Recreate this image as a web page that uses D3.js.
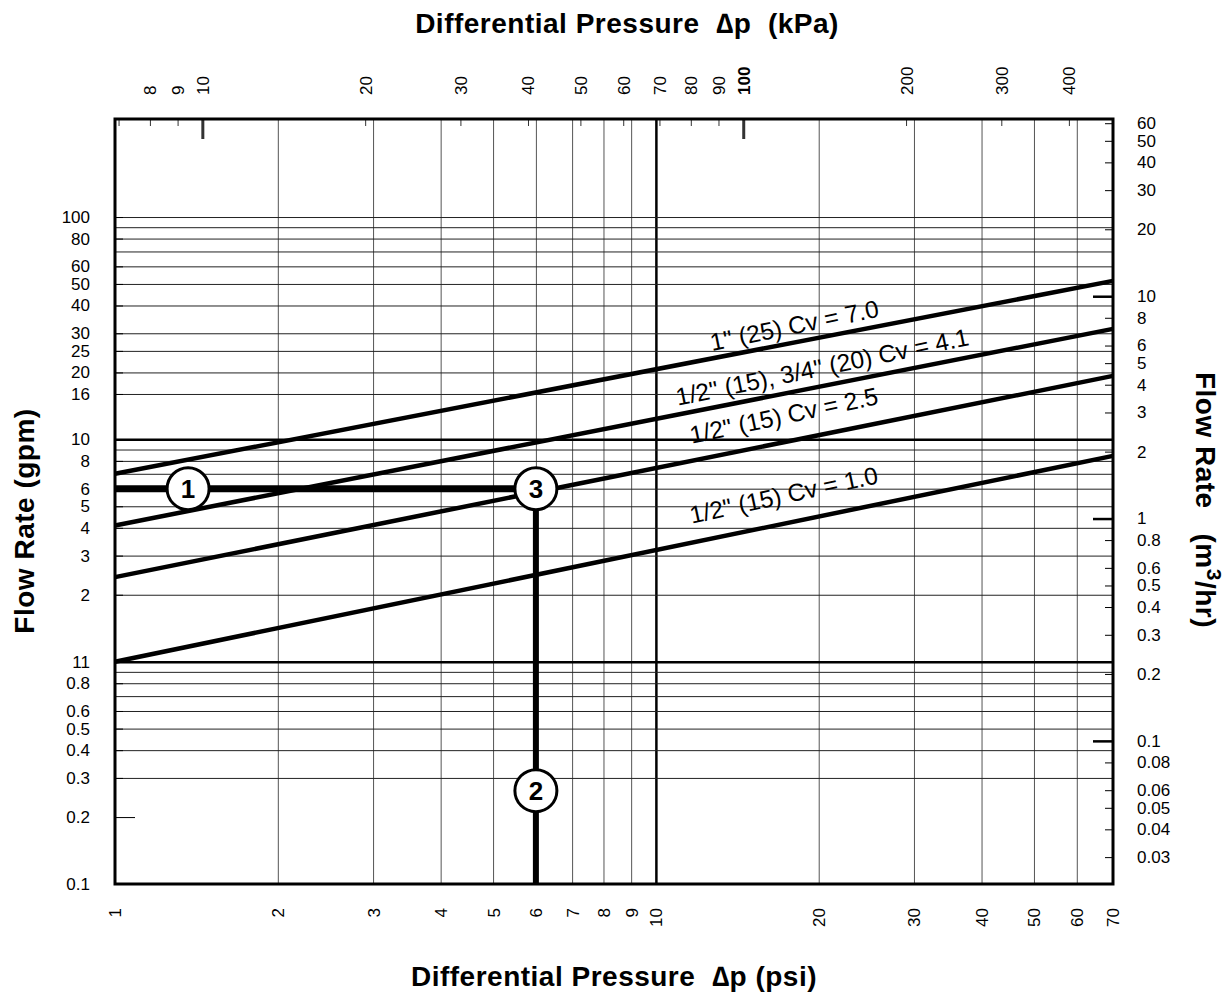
<!DOCTYPE html>
<html>
<head>
<meta charset="utf-8">
<script src="https://cdnjs.cloudflare.com/ajax/libs/d3/7.8.5/d3.min.js"></script>
<style>
body{margin:0;background:#fff;}
svg{display:block;font-family:"Liberation Sans",Arial,Helvetica,sans-serif;}
</style>
</head>
<body>
<svg width="1228" height="994"></svg>
<script>
// bottom axis, psi
var psiTicks = [1,2,3,4,5,6,7,8,9,10,20,30,40,50,60,70];
var psiGrid = [2,3,4,5,6,7,8,9,10,20,30,40,50,60];
// top axis, kPa
var kpaTicks = [7,8,9,10,20,30,40,50,60,70,80,90,100,200,300,400];
var kpaLabels = [8,9,10,20,30,40,50,60,70,80,90,100,200,300,400];
// left axis, gpm
var gpmGrid = [100,90,80,70,60,50,40,30,25,20,16,10,9,8,7,6,5,4,3,2,1,0.9,0.8,0.7,0.6,0.5,0.4,0.3];
var gpmTicks = [100,80,60,50,40,30,25,20,16,10,8,6,5,4,3,2,1,0.8,0.6,0.5,0.4,0.3,0.2,0.1];
var gpmLabels = ["100","80","60","50","40","30","25","20","16","10","8","6","5","4","3","2","11","0.8","0.6","0.5","0.4","0.3","0.2","0.1"];
// right axis, m3/hr
var m3Ticks = [60,50,40,30,20,10,8,6,5,4,3,2,1,0.8,0.6,0.5,0.4,0.3,0.2,0.1,0.08,0.06,0.05,0.04,0.03];

// valve lines, gpm read at 1 psi and at 70 psi
var cvNames = ['1" (25) Cv = 7.0', '1/2" (15), 3/4" (20) Cv = 4.1', '1/2" (15) Cv = 2.5', '1/2" (15) Cv = 1.0'];
var cvStart = [7.0, 4.1, 2.4, 1.0];
var cvEnd = [51.6, 31.4, 19.3, 8.43];
var labelPsi = [12.7, 10.98, 11.65, 11.65];
var labelGpm = [25.0, 14.15, 9.55, 4.17];

// worked example markers
var markNames = ["1", "2", "3"];
var markPsi = [1.365, 6, 6];
var markGpm = [6, 0.263, 6];
var examplePath = [[1, 6], [6, 6], [6, 0.1]];

var KPA = 6.895, M3 = 0.2271;
var psiMin = 1, psiMax = 70, gpmMin = 0.1, gpmMax = 276;
var pL = 115, pR = 1113, pT = 119, pB = 884;

var svg = d3.select("svg");
var x = d3.scaleLog().domain([psiMin, psiMax]).range([pL, pR]);
var y = d3.scaleLog().domain([gpmMin, gpmMax]).range([pB, pT]);
var xk = d3.scaleLog().domain([psiMin * KPA, psiMax * KPA]).range([pL, pR]);
var ym = d3.scaleLog().domain([gpmMin * M3, gpmMax * M3]).range([pB, pT]);

// grid
var vg = svg.append("g").attr("transform", "translate(0," + pB + ")")
    .call(d3.axisBottom(x).tickValues(psiGrid).tickSize(-(pB - pT)).tickFormat(""));
vg.select(".domain").remove();
vg.selectAll("line").attr("stroke", function(d){ return d == 10 ? "#000" : "#555"; })
    .attr("stroke-width", function(d){ return d == 10 ? 2.5 : 1; });

var hg = svg.append("g").attr("transform", "translate(" + pL + ",0)")
    .call(d3.axisLeft(y).tickValues(gpmGrid).tickSize(-(pR - pL)).tickFormat(""));
hg.select(".domain").remove();
hg.selectAll("line").attr("stroke", function(d){ return (d == 10 || d == 1) ? "#000" : "#222"; })
    .attr("stroke-width", function(d){ return (d == 10 || d == 1) ? 2.5 : 1; });

// bottom labels
var bx = svg.append("g").attr("transform", "translate(0," + pB + ")")
    .call(d3.axisBottom(x).tickValues(psiTicks).tickSize(0).tickFormat(d3.format("d")));
bx.select(".domain").remove();
bx.attr("font-size", 17).attr("font-family", null);
bx.selectAll("text").attr("transform", "rotate(-90)").attr("x", -24).attr("y", 0).attr("dy", "0.35em")
    .style("text-anchor", "end").attr("fill", "#000");

// top axis kPa
var tx = svg.append("g").attr("transform", "translate(0," + pT + ")")
    .call(d3.axisTop(xk).tickValues(kpaTicks).tickSizeInner(-7).tickSizeOuter(0)
        .tickFormat(function(d){ return kpaLabels.indexOf(d) >= 0 ? d : ""; }));
tx.select(".domain").remove();
tx.attr("font-size", 17).attr("font-family", null);
tx.selectAll("line").attr("stroke", "#333")
    .attr("y2", function(d){ return (d == 10 || d == 100) ? 20 : 7; })
    .attr("stroke-width", function(d){ return (d == 10 || d == 100) ? 3 : 1; });
tx.selectAll("text").attr("transform", "rotate(-90)").attr("x", 24).attr("y", 0).attr("dy", "0.35em")
    .style("text-anchor", "start").attr("fill", "#000")
    .style("font-weight", function(d){ return d == 100 ? "bold" : null; });

// left axis gpm
var ly = svg.append("g").attr("transform", "translate(" + pL + ",0)")
    .call(d3.axisLeft(y).tickValues(gpmTicks).tickSizeInner(-8).tickSizeOuter(0).tickPadding(25)
        .tickFormat(function(d, i){ return gpmLabels[i]; }));
ly.select(".domain").remove();
ly.attr("font-size", 17).attr("font-family", null);
ly.selectAll("line").attr("x2", function(d){ return d == 0.2 ? 20 : 8; });
ly.selectAll("text").attr("fill", "#000");

// right axis m3/hr
var ry = svg.append("g").attr("transform", "translate(" + pR + ",0)")
    .call(d3.axisRight(ym).tickValues(m3Ticks).tickSizeInner(-8).tickSizeOuter(0).tickPadding(24)
        .tickFormat(function(d){ return d; }));
ry.select(".domain").remove();
ry.attr("font-size", 17).attr("font-family", null);
ry.selectAll("line")
    .attr("x2", function(d){ return (d == 10 || d == 1 || d == 0.1) ? -20 : -8; })
    .attr("stroke-width", function(d){ return (d == 10 || d == 1 || d == 0.1) ? 2.5 : 1; });
ry.selectAll("text").attr("fill", "#000");

// frame
svg.append("rect").attr("x", pL).attr("y", pT).attr("width", pR - pL).attr("height", pB - pT)
    .attr("fill", "none").attr("stroke", "#000").attr("stroke-width", 3);

// Cv lines
var line = d3.line().x(function(d){ return x(d[0]); }).y(function(d){ return y(d[1]); });
for(var i = 0; i < cvNames.length; i++){
    var pts = [[psiMin, cvStart[i]], [psiMax, cvEnd[i]]];
    svg.append("path").attr("d", line(pts)).attr("stroke", "#000").attr("stroke-width", 4.5).attr("fill", "none");
    var ang = Math.atan2(y(cvEnd[i]) - y(cvStart[i]), x(psiMax) - x(psiMin)) * 180 / Math.PI - 0.6;
    svg.append("text")
        .attr("transform", "translate(" + x(labelPsi[i]) + "," + y(labelGpm[i]) + ") rotate(" + ang + ")")
        .style("font-size", "24.5px").style("white-space", "pre")
        .text(cvNames[i]);
}

// worked example
svg.append("path").attr("d", line(examplePath.slice(0, 2))).attr("stroke", "#000").attr("stroke-width", 7).attr("fill", "none");
svg.append("path").attr("d", line(examplePath.slice(1))).attr("stroke", "#000").attr("stroke-width", 6).attr("fill", "none");
var marks = svg.selectAll(".mark").data(markNames).enter().append("g").attr("class", "mark")
    .attr("transform", function(d, i){ return "translate(" + x(markPsi[i]) + "," + y(markGpm[i]) + ")"; });
marks.append("circle").attr("r", 21).attr("fill", "#fff").attr("stroke", "#000").attr("stroke-width", 3);
marks.append("text").attr("text-anchor", "middle").attr("dy", "0.36em")
    .style("font-size", "26px").style("font-weight", "bold").text(function(d){ return d; });

// titles
function title(sel){
    return sel.style("font-size", "28px").style("font-weight", "bold").style("letter-spacing", "0.5px")
        .style("white-space", "pre").attr("text-anchor", "middle");
}
title(svg.append("text").attr("x", 627).attr("y", 33)).text("Differential Pressure  \u2206p  (kPa)");
title(svg.append("text").attr("x", 614).attr("y", 986)).text("Differential Pressure  \u2206p (psi)");
title(svg.append("text").attr("transform", "translate(34,521) rotate(-90)")).text("Flow Rate (gpm)");
var rt = title(svg.append("text").attr("transform", "translate(1196,500) rotate(90)"));
rt.append("tspan").text("Flow Rate   (m");
rt.append("tspan").attr("dy", -11).style("font-size", "21px").text("3");
rt.append("tspan").attr("dy", 11).text("/hr)");
</script>
</body>
</html>
